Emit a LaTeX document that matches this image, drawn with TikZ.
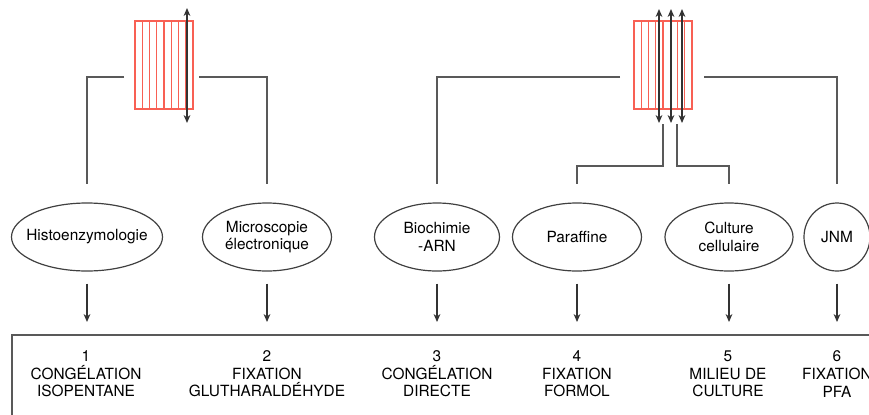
\documentclass[tikz,border=0pt]{standalone}
\usepackage{fontspec}
\setmainfont{TeX Gyre Heros}
\usetikzlibrary{shapes.geometric,arrows.meta}
\definecolor{rouge}{RGB}{248,96,84}
\tikzset{
  trait/.style={draw=black!65, line width=0.85pt},
  fin/.style={draw=black!80, line width=0.6pt},
  raie/.style={draw=rouge, line width=0.55pt},
  ovale/.style={ellipse, draw=black!75, line width=0.6pt, inner xsep=-12pt, inner ysep=0pt,
                minimum height=34pt, minimum width=#1, align=center},
  etiquette/.style={align=center, inner sep=0pt},
}
\begin{document}
\begin{tikzpicture}[x=0.5pt,y=-0.5pt,>={Stealth[length=4pt,width=3.4pt]},
                    font=\fontsize{7.7}{8.8}\selectfont]
   \clip (0,0) rectangle (869,414);

   % ブロック
   \draw[raie] (135,21) rectangle (193,109);
   \foreach \i in {1,...,7} \draw[raie] (135+\i*7.25,21) -- (135+\i*7.25,109);
   \draw[raie] (634,21) rectangle (692,109);
   \foreach \i in {1,...,7} \draw[raie] (634+\i*7.25,21) -- (634+\i*7.25,109);

   % 切片の矢印
   \draw[fin,<->] (187,8) -- (187,123);
   \foreach \x in {659,671,682} \draw[fin,<->] (\x,9) -- (\x,123);

   % 楕円
   \node[ovale=75.5pt] (histo) at (87,237) {Histoenzymologie};
   \node[ovale=64.5pt] (micro) at (267,237) {Microscopie\\électronique};
   \node[ovale=62.5pt] (bioch) at (437,237) {Biochimie\\-ARN};
   \node[ovale=64.5pt] (paraf) at (577,237) {Paraffine};
   \node[ovale=64pt]   (cult)  at (729,237) {Culture\\cellulaire};
   \node[ovale=33pt]   (jnm)   at (837,237) {JNM};

   % 接続線
   \coordinate (g1) at (124,77);
   \coordinate (d1) at (199,77);
   \coordinate (g2) at (620,77);
   \coordinate (d2) at (704,77);
   \coordinate (b1) at (663,124);
   \coordinate (b2) at (677,124);
   \draw[trait,shorten >=9pt] (g1) -| (histo.north);
   \draw[trait,shorten >=9pt] (d1) -| (micro.north);
   \draw[trait,shorten >=9pt] (g2) -| (bioch.north);
   \draw[trait,shorten >=9pt] (d2) -| (jnm.north);
   \draw[trait,shorten >=9pt] (b1) -- (663,166) -| (paraf.north);
   \draw[trait,shorten >=9pt] (b2) -- (677,166) -| (cult.north);

   % 下の枠
   \coordinate (cadre) at (12,335);
   \draw[trait,line width=1pt] (12,430) -- (cadre) -- (890,335);
   \foreach \n in {histo,micro,bioch,paraf,cult,jnm}
      \draw[fin,->,shorten <=6pt,shorten >=6.5pt] (\n.south) -- (\n.south |- cadre);

   \node[etiquette] (l1) at (86,374)  {1\\CONGÉLATION\\ISOPENTANE};
   \node[etiquette] (l2) at (267,374) {2\\FIXATION\\GLUTHARALDÉHYDE};
   \node[etiquette] (l3) at (437,374) {3\\CONGÉLATION\\DIRECTE};
   \node[etiquette] (l4) at (577,374) {4\\FIXATION\\FORMOL};
   \node[etiquette] (l5) at (728,374) {5\\MILIEU DE\\CULTURE};
   \node[etiquette] (l6) at (837,374) {6\\FIXATION\\PFA};
\end{tikzpicture}
\end{document}
